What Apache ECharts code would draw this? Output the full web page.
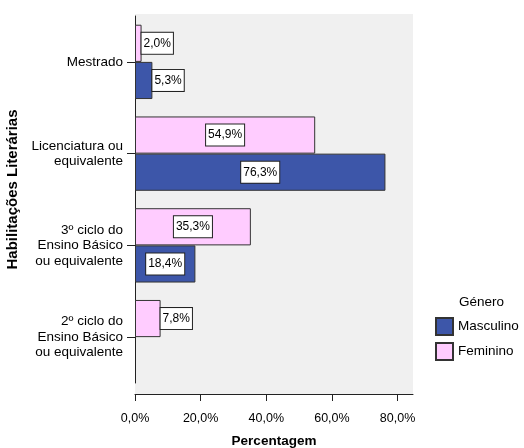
<!DOCTYPE html>
<html>
<head>
<meta charset="utf-8">
<script src="https://cdn.jsdelivr.net/npm/echarts@6/dist/echarts.min.js"></script>
<style>
  html, body { margin: 0; padding: 0; background: #fff; }
  #chart { width: 524px; height: 448px; }
</style>
</head>
<body>
<div id="chart"></div>
<script>
// Qualification levels, listed bottom to top as the category axis draws them
const categories = [
  '2º ciclo do\nEnsino Básico\nou equivalente',
  '3º ciclo do\nEnsino Básico\nou equivalente',
  'Licenciatura ou\nequivalente',
  'Mestrado'
];
// Percentages within each gender
const masculino = [0, 18.4, 76.3, 5.3];
const feminino = [7.8, 35.3, 54.9, 2.0];
const xTicks = [0, 20, 40, 60, 80];

const FONT = "'Liberation Sans', Arial, sans-serif";
const BLUE = '#3d56a9';
const PINK = '#ffccff';
const INK = '#222';

const fmt = v => v.toFixed(1).replace('.', ',') + '%';

// Long bars carry their label centred inside, short ones just past the end;
// empty bars get no outline so they leave no trace on the axis
function items(values) {
  return values.map(v => ({
    value: v,
    itemStyle: v > 0 ? {} : { borderWidth: 0 },
    label: {
      show: v > 0,
      position: v >= 15 ? 'inside' : 'right',
      distance: 0
    }
  }));
}

const labelStyle = {
  formatter: p => fmt(p.value),
  fontFamily: FONT,
  fontSize: 12,
  lineHeight: 14,
  color: '#000',
  backgroundColor: '#fff',
  borderColor: INK,
  borderWidth: 1,
  padding: [4, 2, 3, 2]
};

const chart = echarts.init(document.getElementById('chart'), null, { renderer: 'canvas' });
chart.setOption({
  animation: false,
  textStyle: { fontFamily: FONT },
  grid: [
    { left: 135, top: 14, width: 278, height: 380, show: true, backgroundColor: '#f0f0f0',
      borderWidth: 0, containLabel: false, outerBoundsMode: 'none' },
    { left: 135, top: 16, width: 278, height: 367, containLabel: false, outerBoundsMode: 'none' }
  ],
  title: {
    text: 'Género',
    left: 459, top: 295,
    padding: 0,
    textStyle: { fontFamily: FONT, fontSize: 13.5, fontWeight: 'normal', color: '#000' }
  },
  legend: {
    data: ['Masculino', 'Feminino'],
    orient: 'vertical',
    left: 435, top: 317,
    padding: 0,
    itemWidth: 17, itemHeight: 17, itemGap: 6,
    icon: 'rect',
    textStyle: { fontFamily: FONT, fontSize: 13.5, color: '#000' }
  },
  xAxis: [
    { gridIndex: 0, type: 'value', show: false, min: 0, max: 1 },
    {
      gridIndex: 1, type: 'value',
      min: xTicks[0], max: 84.7, interval: xTicks[1] - xTicks[0],
      offset: 11,
      axisLine: { show: true, lineStyle: { color: INK, width: 1 } },
      axisTick: { show: true, length: 7, lineStyle: { color: INK } },
      axisLabel: { formatter: v => fmt(v), fontFamily: FONT, fontSize: 12.5, color: '#000', margin: 18 },
      splitLine: { show: false },
      name: 'Percentagem',
      nameLocation: 'middle',
      nameGap: 40,
      nameTextStyle: { fontFamily: FONT, fontSize: 13.5, fontWeight: 'bold', color: '#000' }
    }
  ],
  yAxis: [
    { gridIndex: 0, type: 'value', show: false, min: 0, max: 1 },
    {
      gridIndex: 1, type: 'category', data: categories,
      axisLine: { show: true, lineStyle: { color: INK, width: 1 } },
      axisTick: { show: true, alignWithLabel: true, length: 8, lineStyle: { color: INK } },
      axisLabel: { fontFamily: FONT, fontSize: 13.5, color: '#000', margin: 12, lineHeight: 15.5, align: 'right' },
      name: 'Habilitações Literárias',
      nameLocation: 'middle',
      nameGap: 105,
      nameTextStyle: { fontFamily: FONT, fontSize: 15, fontWeight: 'bold', color: '#000', padding: [0, 0, 0, 20] }
    }
  ],
  series: [
    {
      name: 'Feminino', type: 'bar', xAxisIndex: 1, yAxisIndex: 1,
      data: items(feminino),
      barCategoryGap: '19%', barGap: '0%',
      itemStyle: { color: PINK, borderColor: '#333', borderWidth: 1 },
      label: labelStyle
    },
    {
      name: 'Masculino', type: 'bar', xAxisIndex: 1, yAxisIndex: 1,
      data: items(masculino),
      barCategoryGap: '19%', barGap: '0%',
      itemStyle: { color: BLUE, borderColor: '#333', borderWidth: 1 },
      label: labelStyle
    }
  ]
});
</script>
</body>
</html>
